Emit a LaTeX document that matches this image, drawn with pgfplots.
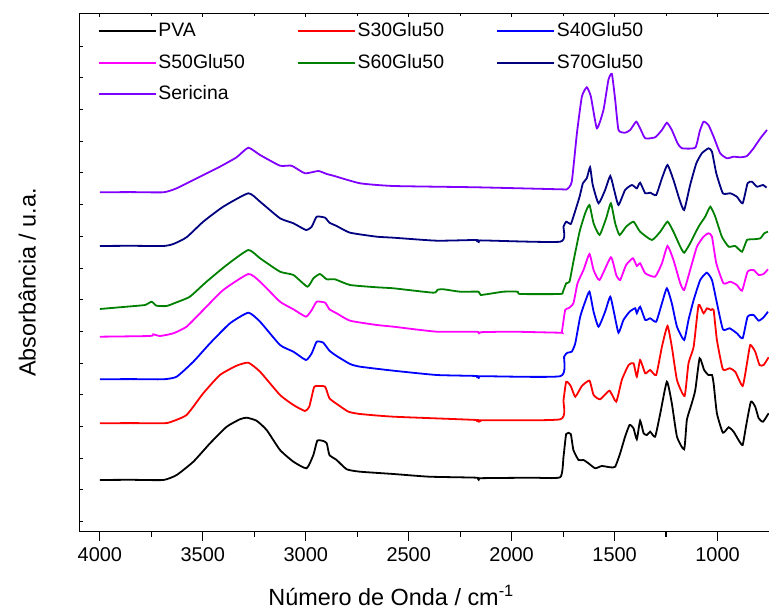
\documentclass[border=0pt]{standalone}
\usepackage{pgfplots}
\pgfplotsset{compat=1.18}
\usepackage{fontspec}
\setmainfont{Liberation Sans}

\definecolor{navyline}{RGB}{0,0,128}
\definecolor{greenline}{RGB}{0,128,0}
\definecolor{violetline}{RGB}{128,0,255}
\definecolor{magentaline}{RGB}{255,0,255}
\definecolor{redline}{RGB}{255,0,0}
\definecolor{blueline}{RGB}{0,0,255}

\begin{document}
\begin{tikzpicture}
\useasboundingbox (-79.3bp,-78.3bp) rectangle (689.7bp,531.7bp);

% top and left ticks (inward) and the spectra
\begin{axis}[
  at={(0,0)}, anchor=south west,
  scale only axis, width=689.7bp, height=518.4bp,
  x dir=reverse, xmin=750, xmax=4100, ymin=0, ymax=518.4,
  axis x line=box, axis y line=left, axis line style={-, line width=1.2bp},
  xtick pos=right, xtick={1000,1500,...,4000}, minor x tick num=1,
  xticklabels={},
  ytick={10,41.7,73.4,105.1,136.8,168.5,200.2,231.9,263.6,295.3,327,358.7,390.4,422.1,453.8,485.5},
  yticklabels={},
  tick align=inside, major tick length=4bp, minor tick length=3bp,
  tick style={line width=1bp, black},
  ylabel={Absorbância / u.a.},
  ylabel style={at={([xshift=-52bp,yshift=-10bp]axis description cs:0,0.5)},
    anchor=center, font=\fontsize{23.5}{27}\selectfont},
  every axis plot/.append style={line width=1.8bp, smooth, tension=0.3},
  legend columns=3,
  legend cell align=left,
  legend image code/.code={\draw[#1] (0bp,0bp) -- (57bp,0bp);},
  legend style={draw=none, fill=none, at={(axis description cs:0.022,0.99)},
    anchor=north west, font=\fontsize{19.5}{23}\selectfont,
    nodes={inner sep=2bp, text height=14bp, text depth=3bp},
    row sep=10.5bp,
    /tikz/every even column/.append style={column sep=50bp}},
]
\addplot[black] coordinates {
(4000,51.7) (3850,51.9) (3692,51.7) (3627,56.7) (3546,70) (3465,88.4) (3384,105)
(3320,112.4) (3287,114) (3239,111) (3190,101.7) (3125,81.7) (3060,70) (2996,63.4)
(2963,76.7) (2944,91) (2915,90.7) (2898,88.4) (2885,76.7) (2850,71.7) (2801,62.4)
(2736,60) (2574,57.7) (2400,55) (2169,54) (2160,52) (2150,53.5) (1900,54) (1764,54.5)
(1748,75) (1735,97.7) (1713,97.7) (1700,81.7) (1675,71.7) (1651,71.7) (1627,68.4)
(1594,63.4) (1562,65.7) (1521,64.4) (1497,65) (1473,78.4) (1449,95) (1427,106.7)
(1408,103.4) (1392,92.4) (1376,111) (1359,98.4) (1343,96.7) (1327,100) (1303,95)
(1278,118.4) (1246,150) (1222,128.4) (1197,95) (1162,82.4) (1149,111.7) (1125,128.4)
(1108,141.7) (1087,173.4) (1065,161.7) (1044,156.7) (1027,156.7) (1019,148.4)
(1003,118.4) (974,99) (946,104.4) (922,100) (898,91.7) (878,86.7) (862,105) (838,130)
(817,125) (800,113.4) (779,110) (752,118.4)};
\addlegendentry{PVA}
\addplot[redline] coordinates {
(4000,108.4) (3850,108.6) (3692,108.4) (3660,109.4) (3579,116.7) (3498,138.4)
(3417,156.7) (3336,166) (3279,169) (3222,160) (3125,136.7) (3060,126.7) (3004,120.7)
(2983,125) (2960,144.4) (2944,145.7) (2906,145) (2885,133.4) (2842,126.7) (2793,120)
(2736,117.7) (2574,115) (2169,111.7) (2160,110) (2150,111.5) (1764,112.4)
(1748,131.7) (1735,150) (1713,145.7) (1691,135) (1659,145.7) (1622,151) (1602,136.7)
(1570,132.4) (1525,141) (1492,130) (1465,151.7) (1432,166.7) (1408,168.4) (1392,155)
(1376,171.7) (1351,158.4) (1327,161.7) (1298,156.7) (1270,185) (1243,205.7)
(1222,185) (1197,151.7) (1160,135.7) (1141,168.4) (1116,185) (1092,226.7)
(1068,218.4) (1051,223.4) (1032,221.7) (1019,221.7) (1003,191.7) (974,162.4)
(941,163.4) (914,160) (878,145.7) (857,168.4) (841,186.7) (817,180) (796,166.7)
(776,166.7) (752,174.4)};
\addlegendentry{S30Glu50}
\addplot[blueline] coordinates {
(4000,152.4) (3850,152.6) (3692,152.4) (3627,155) (3546,170) (3465,188.4)
(3368,208.4) (3279,219) (3222,210) (3125,186.7) (3060,180) (2999,171.7) (2971,178.4)
(2947,190) (2915,189) (2885,181) (2850,175.7) (2785,167.7) (2736,165) (2574,161)
(2364,156.7) (2169,155.7) (2160,153.8) (2150,155.5) (1764,155.5) (1745,175)
(1729,179) (1708,180) (1691,188.4) (1667,215) (1643,230) (1622,240) (1602,220)
(1578,205) (1546,220) (1521,235) (1502,218.4) (1481,199) (1457,211.7) (1427,220)
(1400,223.4) (1392,218.4) (1376,225) (1351,211.7) (1327,213.4) (1298,210)
(1270,228.4) (1246,243.4) (1222,228.4) (1197,205) (1162,191.7) (1141,211.7)
(1116,231.7) (1084,251.7) (1052,259) (1027,251.7) (1006,231.7) (974,202.4)
(941,203.4) (906,198.4) (878,193.4) (854,215) (825,216.7) (800,211) (776,214.4)
(755,220)};
\addlegendentry{S40Glu50}
\addplot[magentaline] coordinates {
(4000,195) (3757,195.7) (3741,197.4) (3708,195.7) (3643,198.4) (3579,205)
(3498,221.7) (3401,241.7) (3279,257.7) (3222,250) (3125,230) (3060,222.4) (2999,215)
(2971,221.7) (2947,230) (2906,229) (2885,222.4) (2850,218.4) (2785,211) (2655,206.7)
(2574,205) (2364,200) (2169,200) (2160,197.5) (2150,199.5) (1991,200) (1764,199)
(1756,200) (1740,221.7) (1724,223.4) (1700,228.4) (1680,248.4) (1651,261.7)
(1622,277.7) (1602,261.7) (1573,251.7) (1518,274.4) (1492,256.7) (1473,251.7)
(1444,266.7) (1411,273.4) (1392,265.7) (1376,268.4) (1351,258.4) (1303,255)
(1270,268.4) (1243,285.7) (1214,271.7) (1181,248.4) (1162,241.7) (1133,261.7)
(1100,285) (1068,295) (1044,298.4) (1027,295) (1006,268.4) (971,248.4) (938,250)
(906,246.7) (881,241) (854,260) (825,261.7) (800,256.7) (776,257.7) (755,262.4)};
\addlegendentry{S50Glu50}
\addplot[greenline] coordinates {
(4000,222.7) (3870,225) (3781,226.7) (3749,230) (3725,226) (3676,225.7) (3627,229.4)
(3563,235) (3482,250) (3384,266.7) (3279,281.7) (3222,273.4) (3125,260) (3060,256.7)
(2992,245) (2963,253.4) (2931,257.7) (2898,252.4) (2858,252.4) (2785,246.7)
(2655,244.4) (2574,243.4) (2380,239) (2360,242) (2331,242.4) (2250,240) (2160,240)
(2150,236.7) (2040,240) (1970,240) (1959,237.7) (1764,237.7) (1751,240) (1735,248.4)
(1719,250) (1700,270) (1670,300) (1643,318.4) (1622,326.7) (1602,308.4) (1573,296.7)
(1541,313.4) (1518,328.4) (1497,308.4) (1476,296.7) (1444,305) (1408,310) (1376,300)
(1319,291.7) (1278,300) (1243,310) (1214,300) (1181,285) (1162,279) (1133,288.4)
(1092,305) (1060,315) (1035,325) (1011,315) (979,295) (946,285) (914,285.7) (881,280)
(857,291.7) (825,292.4) (792,293.4) (773,298.4) (755,300)};
\addlegendentry{S60Glu50}
\addplot[navyline] coordinates {
(4000,285.7) (3850,285.9) (3692,285.7) (3643,287.7) (3579,294.4) (3498,310)
(3401,325) (3279,338.4) (3222,330) (3125,313.4) (3060,308.4) (2999,301.7) (2971,305)
(2947,315) (2906,314) (2885,309) (2850,305.7) (2785,299) (2655,295) (2574,294)
(2364,291) (2169,291.7) (2160,289.7) (2150,291.3) (1764,290) (1748,305) (1735,310)
(1713,307.7) (1700,315) (1670,335) (1654,348.4) (1635,353.4) (1619,364.4)
(1606,346.7) (1578,328.4) (1546,341.7) (1521,355.7) (1502,341.7) (1481,326.7)
(1449,341.7) (1416,346.7) (1392,343.4) (1376,349) (1351,338.4) (1327,339)
(1298,336.7) (1270,353.4) (1243,366.7) (1214,351.7) (1184,331.7) (1162,321.7)
(1133,346.7) (1103,368.4) (1076,378.4) (1044,383.4) (1027,380) (1006,358.4)
(974,338.4) (938,338.4) (906,335) (878,328.4) (854,348.4) (833,350) (808,345)
(779,346.7) (762,344)};
\addlegendentry{S70Glu50}
\addplot[violetline] coordinates {
(4000,339.4) (3850,339.6) (3692,339.4) (3627,343.4) (3514,355) (3417,365)
(3336,374.4) (3279,384) (3222,376.7) (3125,366) (3069,366) (3004,358.4) (2939,360.7)
(2898,357.7) (2866,356) (2736,348.4) (2574,345.7) (2169,344.4) (1764,342.4)
(1732,342.4) (1708,350) (1683,398.4) (1659,435) (1635,444.4) (1615,435) (1586,403.4)
(1554,421.7) (1530,451.7) (1513,457.7) (1497,431.7) (1481,401.7) (1449,399)
(1424,401.7) (1395,410) (1376,403.4) (1351,393.4) (1303,394.4) (1270,401.7)
(1246,409) (1222,401.7) (1194,388.4) (1173,383.4) (1108,384) (1087,400) (1068,410)
(1044,406.7) (1019,395) (987,378.4) (954,373.4) (922,375) (889,374.4) (857,375.7)
(825,383.4) (792,393.4) (760,401.7)};
\addlegendentry{Sericina}
\end{axis}

% bottom axis with outward ticks and labels
\begin{axis}[
  at={(0,0)}, anchor=south west,
  scale only axis, width=689.7bp, height=518.4bp,
  x dir=reverse, xmin=750, xmax=4100, ymin=0, ymax=518.4,
  axis x line*=bottom, axis y line=none, axis line style={-, line width=1.2bp},
  xtick={1000,1500,...,4000}, minor x tick num=1,
  tick align=outside, major tick length=9bp, minor tick length=5bp,
  tick style={line width=1.2bp, black},
  xticklabel style={font=\fontsize{20}{24}\selectfont, yshift=-3bp},
  /pgf/number format/1000 sep={},
  /pgf/number format/assume math mode=true,
  xlabel={Número de Onda / cm\textsuperscript{-1}},
  xlabel style={at={([xshift=-33bp,yshift=-64bp]axis description cs:0.5,0)},
    anchor=center, font=\fontsize{23.5}{27}\selectfont},
]
\end{axis}
\end{tikzpicture}
\end{document}
